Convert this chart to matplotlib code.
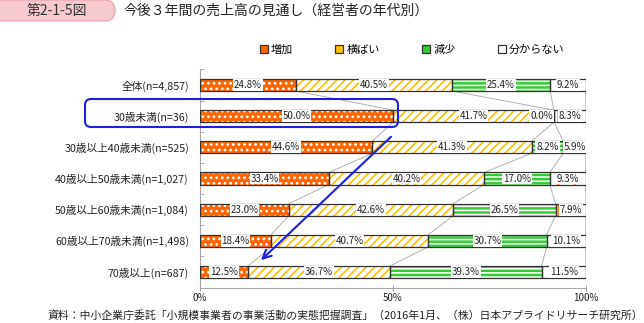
import matplotlib
matplotlib.use("Agg")
import matplotlib.pyplot as plt
import numpy as np
from matplotlib.patches import Patch, FancyBboxPatch

plt.rcParams['font.family'] = ['Noto Sans CJK JP', 'DejaVu Sans']
plt.rcParams['hatch.linewidth'] = 1.2

categories = ["全体(n=4,857)", "30歳未満(n=36)", "30歳以上40歳未満(n=525)",
              "40歳以上50歳未満(n=1,027)", "50歳以上60歳未満(n=1,084)",
              "60歳以上70歳未満(n=1,498)", "70歳以上(n=687)"]
series = ["増加", "横ばい", "減少", "分からない"]
increase = [24.8, 50.0, 44.6, 33.4, 23.0, 18.4, 12.5]
flat = [40.5, 41.7, 41.3, 40.2, 42.6, 40.7, 36.7]
decrease = [25.4, 0.0, 8.2, 17.0, 26.5, 30.7, 39.3]
unknown = [9.2, 8.3, 5.9, 9.3, 7.9, 10.1, 11.5]
xticks = [0, 50, 100]
xticklabels = ["0%", "50%", "100%"]

values = np.array([increase, flat, decrease, unknown])
faces = ["#FF6600", "white", "#33CC33", "white"]
hatch_colors = ["white", "#FFC000", "white", "#FF7F27"]
hatches = ["...", "////", "----", "|"]
legend_faces = ["#FF6600", "#FFC000", "#33CC33", "white"]
edge = "#333333"
grid_gray = "#A6A6A6"

fig = plt.figure(figsize=(6.44, 3.23), dpi=100)
ax = fig.add_axes((200 / 644, 35.4 / 323, 386 / 644, 218.2 / 323))

y = np.arange(len(categories))
h = 0.385
lefts = np.zeros(len(categories))
bounds = []
for k in range(len(series)):
    ax.barh(y, values[k], left=lefts, height=h, color=faces[k],
            edgecolor=hatch_colors[k], hatch=hatches[k], linewidth=0, zorder=2)
    ax.barh(y, values[k], left=lefts, height=h, fill=False,
            edgecolor=edge, linewidth=0.9, zorder=3)
    for i in range(len(categories)):
        v = values[k][i]
        if v == 0:
            xpos, ha = lefts[i] - 0.3, "right"
        else:
            xpos, ha = lefts[i] + v / 2, "center"
        ax.text(xpos, y[i], f"{v:.1f}%", ha=ha, va="center", fontsize=7,
                color="#222222", zorder=5,
                bbox=dict(facecolor="white", edgecolor="none", pad=0.6))
    lefts = lefts + values[k]
    bounds.append(lefts.copy())

# series lines between bars
for k in range(len(series)):
    for i in range(len(categories) - 1):
        ax.plot([bounds[k][i], bounds[k][i + 1]], [y[i] + h / 2, y[i + 1] - h / 2],
                color=grid_gray, lw=0.6, zorder=1)

ax.set_xlim(0, 100)
ax.set_ylim(len(categories) - 0.5, -0.5)
ax.set_yticks(y)
ax.set_yticklabels(categories, fontsize=7.7, color="#222222")
ax.set_yticks(np.arange(len(categories) + 1) - 0.5, minor=True)
ax.tick_params(axis="y", which="major", length=0, pad=8)
ax.tick_params(axis="y", which="minor", length=3, direction="in", color=grid_gray)
ax.set_xticks(xticks)
ax.set_xticklabels(xticklabels, fontsize=7, color="#222222")
ax.tick_params(axis="x", length=4, direction="inout", color=grid_gray, pad=2)
for s in ["top", "right"]:
    ax.spines[s].set_visible(False)
for s in ["left", "bottom"]:
    ax.spines[s].set_color(grid_gray)
    ax.spines[s].set_linewidth(0.8)

handles = [Patch(facecolor=legend_faces[k], edgecolor=edge, linewidth=0.9) for k in range(len(series))]
fig.legend(handles, series, loc="center", bbox_to_anchor=(0.64, 0.845), ncol=4,
           frameon=False, fontsize=8, handlelength=0.7, handleheight=0.7,
           handletextpad=0.3, columnspacing=3.8)

# blue highlight box and arrow
fig.add_artist(FancyBboxPatch((0.85, 1.96), 3.13, 0.28, boxstyle="round,pad=0,rounding_size=0.06",
                              transform=fig.dpi_scale_trans, facecolor="none",
                              edgecolor="#1F1FE0", linewidth=1.5, zorder=10))
ax.annotate("", xy=(15.3, 5.68), xytext=(50.0, 1.6),
            arrowprops=dict(arrowstyle="->,head_length=0.6,head_width=0.3",
                            color="#1F1FE0", lw=1.5), zorder=10)

# title
fig.add_artist(FancyBboxPatch((-0.1, 3.02), 1.25, 0.21, boxstyle="round,pad=0,rounding_size=0.1",
                              transform=fig.dpi_scale_trans, facecolor="#F6C9CE",
                              edgecolor="#E9A3AC", linewidth=0.8))
fig.text(57 / 644, 1 - 11 / 323, "第2-1-5図", ha="center", va="center", fontsize=10, color="#333333")
fig.text(124 / 644, 1 - 11 / 323, "今後３年間の売上高の見通し（経営者の年代別）", ha="left", va="center",
         fontsize=10, color="#222222")
fig.text(47 / 644, 1 - 315 / 323,
         "資料：中小企業庁委託「小規模事業者の事業活動の実態把握調査」（2016年1月、（株）日本アプライドリサーチ研究所）",
         ha="left", va="center", fontsize=7.8, color="#222222")

fig.savefig("out.png", dpi=100)
